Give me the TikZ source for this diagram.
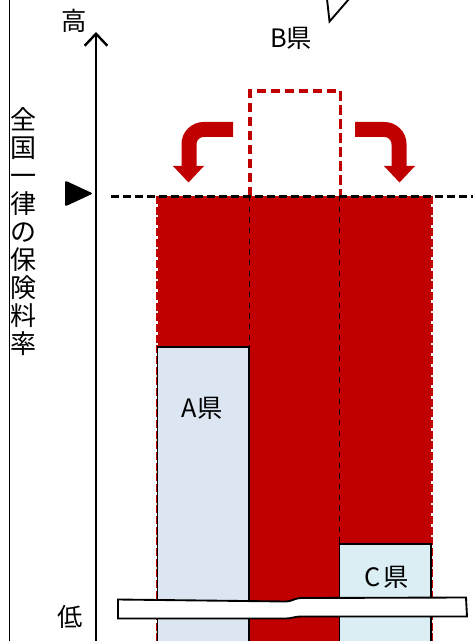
\documentclass[tikz,border=0pt]{standalone}
\usepackage{fontspec}
\setmainfont{Noto Sans CJK JP}
\usetikzlibrary{arrows.meta}
\definecolor{bred}{HTML}{C00000}
\definecolor{afill}{HTML}{DCE6F2}
\definecolor{cfill}{HTML}{DAEEF3}
\tikzset{
  lbl/.style={font=\fontsize{19}{22}\selectfont, inner sep=0pt},
  boxline/.style={draw=black, line width=1.4pt},
  redarrow/.style={draw=bred, line width=11.25pt, rounded corners=11pt},
  redhead/.style={fill=bred, draw=none},
}
\begin{document}
\begin{tikzpicture}[x=0.75pt,y=-0.75pt]
\useasboundingbox (0,0) rectangle (473,641);
% left frame line
\draw[line width=1.4pt] (9.5,0) -- (9.5,641);
% vertical caption
\node[font=\fontsize{19.5}{21}\selectfont, align=center, inner sep=0pt] (cap) at (23,232)
  {全\\国\\一\\律\\の\\保\\険\\料\\率};
% red region
\fill[bred] (157,196) rectangle (432,641);
\draw[white, line width=1.2pt] (157.5,196) -- (157.5,641) (431.5,196) -- (431.5,641);
\draw[bred, line width=1.6pt, dash pattern=on 6pt off 2pt] (157.5,196) -- (157.5,641) (431.5,196) -- (431.5,641);
% inner dashed lines
\draw[black, line width=0.8pt, dash pattern=on 4pt off 4pt] (249.3,196) -- (249.3,641) (339.3,196) -- (339.3,641);
% A box
\draw[boxline, fill=afill] (157.5,347) rectangle (249,645);
\node[lbl] (A) at (202,408) {A県};
% C box
\draw[boxline, fill=cfill] (339.5,544) rectangle (431,645);
\node[lbl] (C) at (387,577) {C\hspace{2pt}県};
% B dashed box
\draw[bred, line width=2.8pt, dash pattern=on 7pt off 3.5pt] (250,196) -- (250,91) -- (340.5,91) -- (340.5,196);
\node[lbl] (B) at (291,38) {B県};
% callout tip
\draw[line width=1.4pt] (327,-1) -- (329.5,21.5) -- (349,-1);
% black dashed level line
\draw[black, line width=2.8pt, dash pattern=on 6pt off 3pt] (111,196.5) -- (473,196.5);
% marker triangle
\fill[black, rounded corners=1.5pt] (65,180.5) -- (93,193.5) -- (65,206.5) -- cycle;
% axis
\draw[line width=1.8pt, -{Straight Barb[length=9pt,width=17pt,line width=1.8pt]}] (96,641) -- (96,32);
\node[lbl] (hi) at (74,21) {高};
\node[lbl] (lo) at (70,617) {低};
% red curved arrows
\draw[redarrow] (233,129.5) -- (189,129.5) -- (189,167);
\fill[redhead] (173,166) -- (204,166) -- (188.5,182.5) -- cycle;
\draw[redarrow] (355,129.5) -- (399,129.5) -- (399,167);
\fill[redhead] (384,166) -- (415,166) -- (399.5,182.5) -- cycle;
% break band
\draw[fill=white, line width=1.4pt]
  (118,599.5) -- (286,601.5) .. controls (292,601.5) and (294,598) .. (302,598) -- (466,597.5)
  -- (467,616.5) -- (302,616.5) .. controls (294,616.5) and (292,618.5) .. (286,618.5) -- (118,618.5) -- cycle;
\end{tikzpicture}
\end{document}
